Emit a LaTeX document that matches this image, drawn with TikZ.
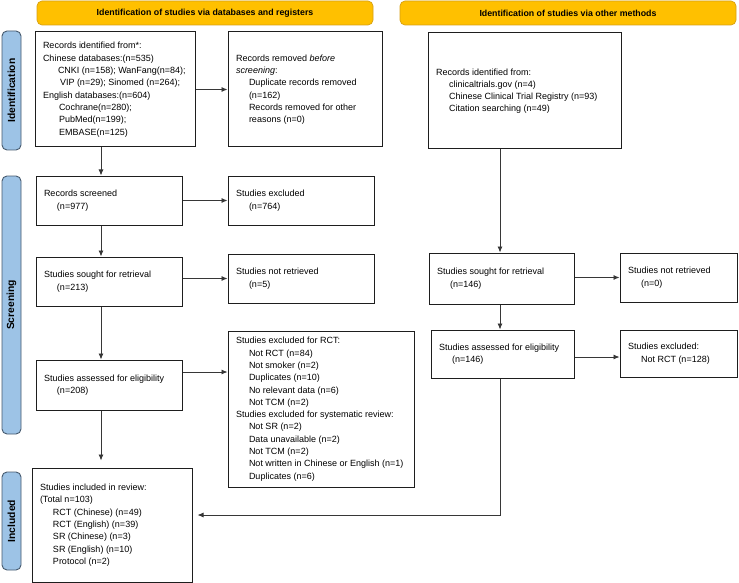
\documentclass[tikz,border=0pt]{standalone}
\usepackage{fontspec}
\setmainfont{Liberation Sans}
\usetikzlibrary{arrows.meta,calc}
\definecolor{hdrc}{RGB}{255,192,0}
\definecolor{hdrb}{RGB}{214,160,20}
\definecolor{sidec}{RGB}{157,195,230}
\definecolor{sideb}{RGB}{70,90,110}
\definecolor{boxc}{RGB}{30,30,30}
\definecolor{linec}{RGB}{55,55,55}
\newcommand\fsbox{\fontsize{9}{12.3}\selectfont}
\newcommand\fshdr{\fontsize{8.8}{10}\selectfont\bfseries}
\newcommand\fsside{\fontsize{10.3}{12}\selectfont\bfseries}
\newcommand\btext[2]{\makebox[#1][l]{\begin{tabular}{@{}l@{}}#2\end{tabular}}}
\newcommand\ind{\hspace*{13pt}}
\tikzset{
  box/.style={draw=boxc, line width=1pt, fill=white, inner xsep=8pt, inner ysep=1pt, font=\fsbox, anchor=center},
  hdr/.style={draw=hdrb, fill=hdrc, rounded corners=5pt, font=\fshdr, line width=0.7pt, minimum width=336pt, minimum height=24pt, inner sep=0pt},
  side/.style={draw=sideb, fill=sidec, rounded corners=5pt, font=\fsside, line width=0.9pt, rotate=90, minimum height=19pt, inner sep=0pt},
  arr/.style={draw=linec, line width=0.8pt, -{Latex[length=6pt,width=5pt]}},
}
\begin{document}
\begin{tikzpicture}[x=1pt,y=-1pt]
\useasboundingbox (0,0) rectangle (739,583);
% headers
\node[hdr] (hdrL) at (205,13) {Identification of studies via databases and registers};
\node[hdr] (hdrR) at (568,13) {Identification of studies via other methods};
% side labels
\node[side, minimum width=119pt] (sideI) at (11.5,90.5) {Identification};
\node[side, minimum width=258pt] (sideS) at (11.5,305) {Screening};
\node[side, minimum width=98pt] (sideN) at (11.5,521) {Included};
% left column
\node[box, minimum width=160pt, minimum height=115pt] (idL) at (115,89.5) {\btext{144pt}{Records identified from*:\\
Chinese databases:(n=535)\\
\hspace*{15pt}CNKI (n=158); WanFang(n=84);\\
\hspace*{17pt}VIP (n=29); Sinomed (n=264);\\
English databases:(n=604)\\
\hspace*{16pt}Cochrane(n=280);\\
\hspace*{16pt}PubMed(n=199);\\
\hspace*{16pt}EMBASE(n=125)}};
\node[box, minimum width=154pt, minimum height=115pt] (remL) at (305,89.5) {\btext{138pt}{Records removed \textit{before}\\
\textit{screening}:\\
\ind Duplicate records removed\\
\ind (n=162)\\
\ind Records removed for other\\
\ind reasons (n=0)}};
\node[box, minimum width=193pt, minimum height=116pt] (idR) at (524.5,91) {\btext{177pt}{Records identified from:\\
\ind clinicaltrials.gov (n=4)\\
\ind Chinese Clinical Trial Registry (n=93)\\
\ind Citation searching (n=49)}};
\node[box, minimum width=146pt, minimum height=49pt] (scrL) at (109,200.5) {\btext{130pt}{Records screened\\ \ind (n=977)}};
\node[box, minimum width=146pt, minimum height=49pt] (excL) at (301,200.5) {\btext{130pt}{Studies excluded\\ \ind (n=764)}};
\node[box, minimum width=146pt, minimum height=49pt] (soughtL) at (109,281.5) {\btext{130pt}{Studies sought for retrieval\\ \ind (n=213)}};
\node[box, minimum width=146pt, minimum height=49pt] (notretL) at (301,278.5) {\btext{130pt}{Studies not retrieved\\ \ind (n=5)}};
\node[box, minimum width=146pt, minimum height=50pt] (assessL) at (109,385) {\btext{130pt}{Studies assessed for eligibility\\ \ind (n=208)}};
\node[box, minimum width=186pt, minimum height=156pt] (exclRCT) at (321,409) {\btext{170pt}{Studies excluded for RCT:\\
\ind Not RCT (n=84)\\
\ind Not smoker (n=2)\\
\ind Duplicates (n=10)\\
\ind No relevant data (n=6)\\
\ind Not TCM (n=2)\\
Studies excluded for systematic review:\\
\ind Not SR (n=2)\\
\ind Data unavailable (n=2)\\
\ind Not TCM (n=2)\\
\ind Not written in Chinese or English (n=1)\\
\ind Duplicates (n=6)}};
\node[box, minimum width=160pt, minimum height=114pt] (inclL) at (112,525) {\btext{144pt}{Studies included in review:\\
(Total n=103)\\
\ind RCT (Chinese) (n=49)\\
\ind RCT (English) (n=39)\\
\ind SR (Chinese) (n=3)\\
\ind SR (English) (n=10)\\
\ind Protocol (n=2)}};
% right column
\node[box, minimum width=145pt, minimum height=51pt] (soughtR) at (501.5,278.5) {\btext{129pt}{Studies sought for retrieval\\ \ind (n=146)}};
\node[box, minimum width=117pt, minimum height=49pt] (notretR) at (678.5,277.5) {\btext{101pt}{Studies not retrieved\\ \ind (n=0)}};
\node[box, minimum width=143pt, minimum height=48pt] (assessR) at (502.5,354) {\btext{127pt}{Studies assessed for eligibility\\ \ind (n=146)}};
\node[box, minimum width=117pt, minimum height=47pt] (exclR) at (678.5,353.5) {\btext{101pt}{Studies excluded:\\ \ind Not RCT (n=128)}};
% helper coordinates
\coordinate (colL) at (101,0);
\coordinate (colR) at (500,0);
\coordinate (aL) at ([yshift=13pt]assessL.east);
\coordinate (aR) at ([yshift=-3pt]assessR.east);
% connectors
\draw[arr] (idL.east) -- (remL.west);
\draw[arr] (idL.south -| colL) -- (scrL.north -| colL);
\draw[arr] (scrL.east) -- (excL.west);
\draw[arr] (scrL.south -| colL) -- (soughtL.north -| colL);
\draw[arr] (soughtL.east |- notretL.west) -- (notretL.west);
\draw[arr] (soughtL.south -| colL) -- (assessL.north -| colL);
\draw[arr] (aL) -- (aL -| exclRCT.west);
\draw[arr, shorten >=7pt] (assessL.south -| colL) -- (inclL.north -| colL);
\draw[arr] (idR.south -| colR) -- (soughtR.north -| colR);
\draw[arr] (soughtR.east |- notretR.west) -- (notretR.west);
\draw[arr] (soughtR.south -| colR) -- (assessR.north -| colR);
\draw[arr] (aR) -- (aR -| exclR.west);
\draw[arr, shorten >=5pt] (assessR.south -| colR) |- ([yshift=10pt]inclL.east);
\end{tikzpicture}
\end{document}
